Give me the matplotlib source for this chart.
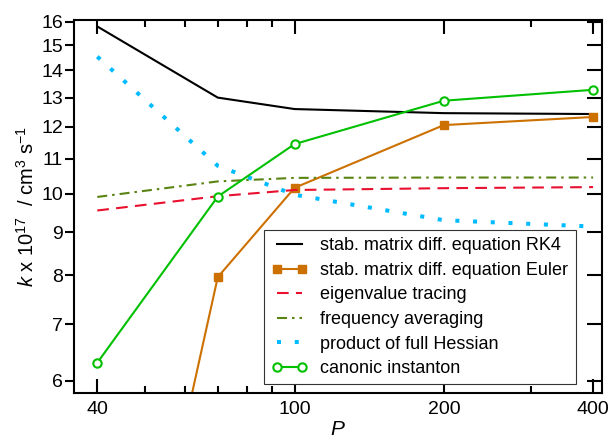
import matplotlib
matplotlib.use('Agg')
import matplotlib.pyplot as plt
from matplotlib.ticker import NullLocator, NullFormatter, FixedLocator

plt.rcParams['font.family'] = ['Liberation Sans', 'DejaVu Sans']
plt.rcParams['mathtext.fontset'] = 'custom'
plt.rcParams['mathtext.rm'] = 'Liberation Sans'
plt.rcParams['mathtext.it'] = 'Liberation Sans:italic'

# number of beads P and rate constants (units of 1e-17 cm^3 s^-1)
P = [40, 70, 100, 200, 400]
rk4 = [15.79, 13.0, 12.6, 12.46, 12.43]
euler = [1.8, 7.96, 10.16, 12.06, 12.33]
eigen = [9.55, 9.93, 10.10, 10.15, 10.18]
freq_avg = [9.91, 10.34, 10.44, 10.45, 10.45]
hessian = [14.54, 10.79, 9.97, 9.30, 9.14]
instanton = [6.30, 9.92, 11.45, 12.89, 13.28]

labels = ['stab. matrix diff. equation RK4',
          'stab. matrix diff. equation Euler',
          'eigenvalue tracing',
          'frequency averaging',
          'product of full Hessian',
          'canonic instanton']

xticks = [40, 100, 200, 400]
xminor = [50, 60, 70, 80, 90, 300]
yticks = [6, 7, 8, 9, 10, 11, 12, 13, 14, 15, 16]

fig = plt.figure(figsize=(6.12, 4.4), dpi=100)
ax = fig.add_axes([0.1209, 0.1068, 0.8628, 0.8477])

ax.plot(P, rk4, color='black', lw=1.5, label=labels[0])
ax.plot(P, euler, color='#CC7000', lw=1.5, marker='s', ms=6, label=labels[1])
ax.plot(P, eigen, color='#E8102E', lw=1.5, ls=(0, (5.6, 3.5)), label=labels[2])
ax.plot(P, freq_avg, color='#5A8412', lw=1.5, ls=(0, (4.8, 2.4, 1.2, 2.4)), label=labels[3])
ax.plot(P, hessian, color='#00BBFF', lw=2.9, ls=(0, (1, 3.4)), dash_capstyle='butt', label=labels[4])
ax.plot(P, instanton, color='#00C000', lw=1.5, marker='o', ms=6, mfc='white', mew=1.5, label=labels[5])

ax.set_xscale('log')
ax.set_yscale('log')
ax.set_xlim(35.9, 417)
ax.set_ylim(5.8, 16.07)

ax.xaxis.set_major_locator(FixedLocator(xticks))
ax.xaxis.set_minor_locator(FixedLocator(xminor))
ax.xaxis.set_minor_formatter(NullFormatter())
ax.set_xticklabels([str(t) for t in xticks])
ax.yaxis.set_major_locator(FixedLocator(yticks))
ax.yaxis.set_minor_locator(NullLocator())
ax.set_yticklabels([str(t) for t in yticks])

ax.tick_params(axis='x', which='major', direction='in', top=True, length=10, width=1.5, labelsize=14, pad=6)
ax.tick_params(axis='x', which='minor', direction='in', top=True, length=5, width=1.5)
ax.tick_params(axis='y', which='major', direction='out', right=False, length=6.5, width=1.5, labelsize=14, pad=1.5)
for s in ax.spines.values():
    s.set_linewidth(1.5)

ax2 = ax.twinx()
ax2.set_yscale('log')
ax2.set_ylim(ax.get_ylim())
ax2.yaxis.set_major_locator(FixedLocator(yticks))
ax2.yaxis.set_minor_locator(NullLocator())
ax2.tick_params(axis='y', direction='in', length=11, width=1.5, labelright=False)
for s in ax2.spines.values():
    s.set_visible(False)

ax.set_ylabel(r'$k$ x 10$^{17}$  / cm$^{3}$ s$^{-1}$', fontsize=14.5, labelpad=2)
ax.set_xlabel(r'$P$', fontsize=15, labelpad=1)

leg = ax.legend(loc='lower right', bbox_to_anchor=(0.950, 0.023), borderaxespad=0,
                fontsize=13, numpoints=2, handlelength=2.0, handletextpad=0.7,
                labelspacing=0.42, borderpad=0.4, fancybox=False, framealpha=1,
                edgecolor='#333333')
leg.get_frame().set_linewidth(0.8)
leg.set_zorder(10)

fig.savefig('out.png', dpi=100)
